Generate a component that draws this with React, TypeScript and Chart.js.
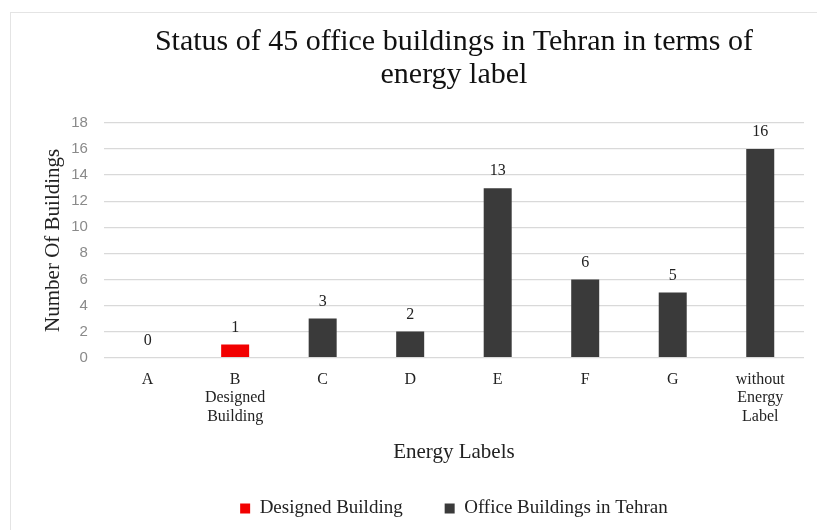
import React, { useEffect, useRef } from "react";
import { Chart, registerables } from "chart.js";

Chart.register(...registerables);

const categories: (string | string[])[] = [
  "A",
  ["B", "Designed", "Building"],
  "C",
  "D",
  "E",
  "F",
  "G",
  ["without", "Energy", "Label"],
];
const designedBuilding: (number | null)[] = [null, 1, null, null, null, null, null, null];
const officeBuildings: (number | null)[] = [0, null, 3, 2, 13, 6, 5, 16];
const yTicks = [0, 2, 4, 6, 8, 10, 12, 14, 16, 18];

const SERIF = "'Liberation Serif', 'Times New Roman', serif";

const valueLabels = {
  id: "valueLabels",
  afterDatasetsDraw(chart: any) {
    const ctx = chart.ctx;
    ctx.save();
    ctx.font = `16px ${SERIF}`;
    ctx.fillStyle = "#222";
    ctx.textAlign = "center";
    ctx.textBaseline = "bottom";
    chart.data.datasets.forEach((ds: any, di: number) => {
      const meta = chart.getDatasetMeta(di);
      meta.data.forEach((bar: any, i: number) => {
        const v = ds.data[i];
        if (v === null || v === undefined) return;
        ctx.fillText(String(v), bar.x, bar.y - 9);
      });
    });
    ctx.restore();
  },
};

export default function App() {
  const ref = useRef<HTMLCanvasElement>(null);
  useEffect(() => {
    document.body.style.margin = "0";
    const chart = new Chart(ref.current!, {
      type: "bar",
      data: {
        labels: categories,
        datasets: [
          {
            label: "Designed Building",
            data: designedBuilding,
            backgroundColor: "#f20000",
            barThickness: 28,
            inflateAmount: 0,
          },
          {
            label: "Office Buildings in Tehran",
            data: officeBuildings,
            backgroundColor: "#3a3a3a",
            barThickness: 28,
            inflateAmount: 0,
          },
        ],
      },
      options: {
        animation: false,
        responsive: false,
        layout: { padding: { left: 20, right: 13, top: 26, bottom: 2 } },
        plugins: {
          title: {
            display: true,
            fullSize: false,
            text: ["Status of 45 office buildings in Tehran in terms of", "energy label"],
            font: { family: SERIF, size: 30, weight: "normal", lineHeight: 1.1 },
            color: "#111",
            padding: { top: 0, bottom: 31 },
          },
          legend: {
            position: "bottom",
            fullSize: false,
            labels: {
              boxWidth: 10,
              boxHeight: 10,
              padding: 42,
              color: "#222",
              font: { family: SERIF, size: 19 },
            },
          },
          tooltip: { enabled: false },
        },
        scales: {
          x: {
            stacked: true,
            grid: { display: false },
            border: { display: false },
            ticks: {
              color: "#222",
              font: { family: SERIF, size: 16, lineHeight: 1.15 },
              padding: 5,
              maxRotation: 0,
              autoSkip: false,
            },
            title: {
              display: true,
              text: "Energy Labels",
              color: "#222",
              font: { family: SERIF, size: 21 },
              padding: { top: 9, bottom: -8 },
            },
          },
          y: {
            stacked: true,
            min: 0,
            max: 18,
            afterBuildTicks: (axis: any) => {
              axis.ticks = yTicks.map((v) => ({ value: v }));
            },
            grid: { color: "#d9d9d9", lineWidth: 1.3, drawTicks: false },
            border: { display: false },
            ticks: {
              color: "#8a8a8a",
              font: { family: "'Liberation Sans', Arial, sans-serif", size: 15 },
              padding: 16,
            },
            title: {
              display: true,
              text: "Number Of Buildings",
              color: "#222",
              font: { family: SERIF, size: 21 },
              padding: { top: 21, bottom: -11 },
            },
          },
        },
      },
      plugins: [valueLabels],
    });
    return () => chart.destroy();
  }, []);
  return (
    <div style={{ position: "relative", width: 817, height: 530, background: "#fff" }}>
      <div
        style={{
          position: "absolute",
          left: 10,
          top: 12,
          right: 0,
          bottom: 0,
          borderTop: "1px solid #e4e4e4",
          borderLeft: "1px solid #e4e4e4",
          pointerEvents: "none",
        }}
      />
      <canvas ref={ref} width={817} height={530} style={{ display: "block" }} />
    </div>
  );
}
